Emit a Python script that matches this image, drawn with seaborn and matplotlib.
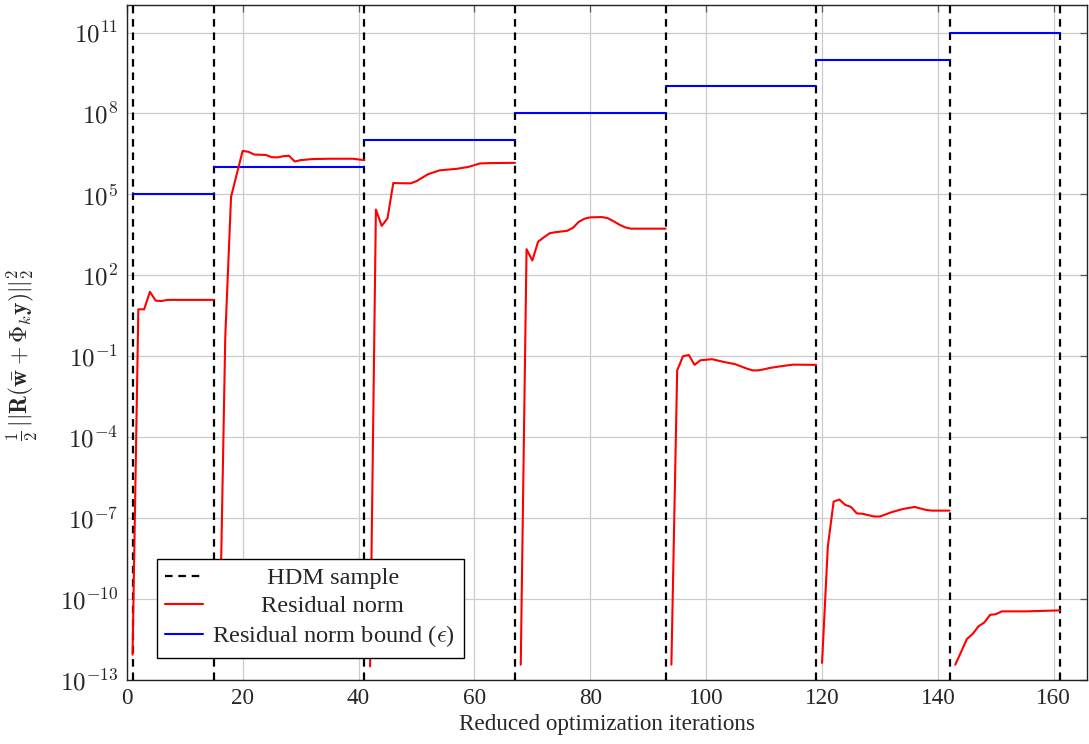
import numpy as np
import pandas as pd
import matplotlib
matplotlib.use("Agg")
import matplotlib.pyplot as plt
import seaborn as sns
from matplotlib.lines import Line2D
from matplotlib.ticker import FixedLocator, FuncFormatter, NullLocator
from matplotlib.mathtext import MathTextParser

# ---------------- data ----------------
hdm_samples = [1, 15, 41, 67, 93, 119, 142, 161]
bound_values = [1e5, 1e6, 1e7, 1e8, 1e9, 1e10, 1e11]

res_x_1 = [1, 2, 3, 4, 5, 6, 7, 15]
res_y_1 = [8.7e-13, 5.5, 5.5, 24.5, 11.5, 11.2, 12.3, 12.3]

res_x_2 = [16, 17, 18, 19, 20, 21, 22, 23, 24, 25, 26, 27, 28, 29, 30, 32, 35, 39, 41]
res_y_2 = [1.0e-12, 0.5, 8.1e4, 5.8e5, 4.1e6, 3.8e6, 3.0e6, 2.95e6, 2.9e6, 2.4e6,
           2.35e6, 2.6e6, 2.7e6, 1.66e6, 1.86e6, 2.04e6, 2.1e6, 2.1e6, 1.86e6]

res_x_3 = [42, 43, 44, 45, 46, 49, 50, 52, 54, 57, 59, 61, 63, 67]
res_y_3 = [3.2e-13, 2.75e4, 6.8e3, 1.29e4, 2.63e5, 2.57e5, 3.1e5, 5.6e5, 7.8e5,
           8.9e5, 1.05e6, 1.41e6, 1.45e6, 1.48e6]

res_x_4 = [68, 69, 70, 71, 72, 73, 74, 76, 77, 78, 79, 80, 82, 83, 84, 85, 86, 87, 93]
res_y_4 = [3.7e-13, 933, 355, 1780, 2570, 3630, 3980, 4470, 5750, 9550, 12600,
           14100, 14450, 13200, 10200, 7590, 6030, 5370, 5370]

res_x_5 = [94, 95, 96, 97, 98, 99, 101, 103, 105, 107, 108, 109, 110, 111, 113, 115, 119]
res_y_5 = [3.7e-13, 0.030, 0.100, 0.112, 0.048, 0.071, 0.078, 0.062, 0.051, 0.035,
           0.030, 0.030, 0.033, 0.037, 0.043, 0.049, 0.048]

res_x_6 = [120, 121, 122, 123, 124, 125, 126, 127, 129, 130, 132, 134, 136, 138, 139, 142]
res_y_6 = [4.3e-13, 8.9e-9, 4.1e-7, 4.9e-7, 3.1e-7, 2.6e-7, 1.5e-7, 1.45e-7, 1.15e-7,
           1.15e-7, 1.66e-7, 2.2e-7, 2.6e-7, 2.0e-7, 1.9e-7, 1.9e-7]

res_x_7 = [143, 144, 145, 146, 147, 148, 149, 150, 151, 155, 161]
res_y_7 = [3.7e-13, 1.1e-12, 3.3e-12, 5.1e-12, 9.8e-12, 1.35e-11, 2.6e-11, 2.75e-11,
           3.5e-11, 3.5e-11, 3.8e-11]

y_tick_exponents = [-13, -10, -7, -4, -1, 2, 5, 8, 11]
x_ticks = [0, 20, 40, 60, 80, 100, 120, 140, 160]

legend_labels = ["HDM sample", "Residual norm", r"Residual norm bound ($\epsilon$)"]
x_label = "Reduced optimization iterations"
y_label_bold = r"$\frac{1}{2}\,||\mathbf{R}(\bar{\mathbf{w}} + \boldsymbol{\Phi}_k\mathbf{y})||_2^2$"
y_label_plain = r"$\frac{1}{2}\,||\mathbf{R}(\bar{\mathbf{w}} + \mathbf{\Phi}_k\mathbf{y})||_2^2$"

# ---------------- tables ----------------
res_xs = [res_x_1, res_x_2, res_x_3, res_x_4, res_x_5, res_x_6, res_x_7]
res_ys = [res_y_1, res_y_2, res_y_3, res_y_4, res_y_5, res_y_6, res_y_7]
res_df = pd.concat(
    [pd.DataFrame({"x": xs, "y": ys, "seg": i}) for i, (xs, ys) in enumerate(zip(res_xs, res_ys))],
    ignore_index=True)
bound_df = pd.concat(
    [pd.DataFrame({"x": [hdm_samples[i], hdm_samples[i + 1]], "y": [b, b], "seg": i})
     for i, b in enumerate(bound_values)],
    ignore_index=True)

# ---------------- style ----------------
sns.set_theme(style="white")
plt.rcParams["font.family"] = ["Liberation Serif", "DejaVu Serif"]
plt.rcParams["mathtext.fontset"] = "cm"
FS = 16.7

try:
    MathTextParser("agg").parse(y_label_bold, dpi=100)
    y_label = y_label_bold
except Exception:
    y_label = y_label_plain

fig = plt.figure(figsize=(10.89, 7.44), dpi=100)
ax = fig.add_axes([0.1164, 0.086, 0.8816, 0.9073])

ax.set_yscale("log")
DASH = (0, (3.4, 2.6))
for d in hdm_samples:
    ax.axvline(d, color="black", lw=1.6, ls=DASH, zorder=3)

sns.lineplot(data=bound_df, x="x", y="y", units="seg", estimator=None,
             color="#0000ff", lw=1.5, ax=ax, zorder=4)
sns.lineplot(data=res_df, x="x", y="y", units="seg", estimator=None,
             color="#ff0000", lw=1.5, ax=ax, zorder=5)

ax.set_xlim(0, 165.7)
ax.set_ylim(1e-13, 1.05e12)
ax.xaxis.set_major_locator(FixedLocator(x_ticks))
ax.yaxis.set_major_locator(FixedLocator([10.0 ** e for e in y_tick_exponents]))
ax.yaxis.set_minor_locator(NullLocator())
ax.yaxis.set_major_formatter(FuncFormatter(lambda v, p: r"$10^{%d}$" % int(round(np.log10(v)))))
ax.xaxis.set_major_formatter(FuncFormatter(lambda v, p: "%d" % int(v)))

ax.grid(True, which="major", color="#cccccc", lw=0.9)
ax.set_axisbelow(True)
for s in ax.spines.values():
    s.set_color("#222222")
    s.set_linewidth(1.0)
ax.tick_params(axis="both", which="major", direction="in", length=5, width=0.9,
               color="#555555", top=True, right=True, pad=6)
ax.tick_params(axis="y", labelsize=18)
ax.tick_params(axis="x", labelsize=FS)

ax.set_xlabel(x_label, fontsize=FS, labelpad=3)
ax.set_ylabel(y_label, fontsize=17.0)
ax.yaxis.set_label_coords(-0.090, 0.481)

handles = [Line2D([], [], color="black", lw=1.6, ls=DASH),
           Line2D([], [], color="#ff0000", lw=1.5),
           Line2D([], [], color="#0000ff", lw=1.5)]
pad_labels = ["         " + legend_labels[0], "        " + legend_labels[1], legend_labels[2]]
leg = ax.legend(handles, pad_labels, loc="lower left", bbox_to_anchor=(0.031, 0.033),
                borderaxespad=0, fontsize=17.6, frameon=True, fancybox=False,
                framealpha=1, edgecolor="black", handlelength=1.55, handletextpad=0.38,
                labelspacing=0.24, borderpad=0.35)
leg.get_frame().set_linewidth(1.0)

fig.savefig("out.png", dpi=100)
